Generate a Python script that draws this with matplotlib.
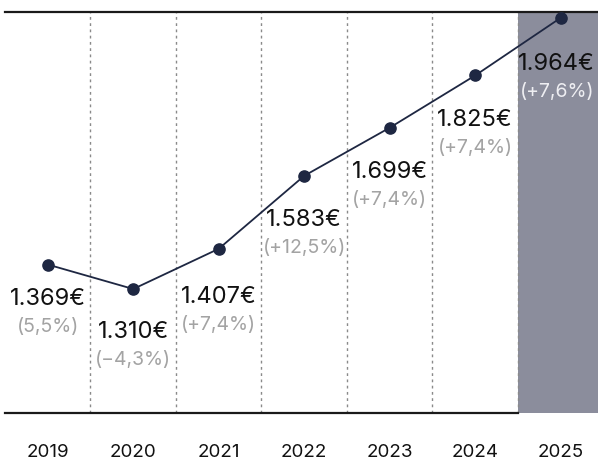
import matplotlib
matplotlib.use("Agg")
import matplotlib.pyplot as plt

# Average gross price per year
years = ["2019", "2020", "2021", "2022", "2023", "2024", "2025"]
prices = [1369, 1310, 1407, 1583, 1699, 1825, 1964]
price_labels = ["1.369€", "1.310€", "1.407€", "1.583€", "1.699€", "1.825€", "1.964€"]
change_labels = ["(5,5%)", "(−4,3%)", "(+7,4%)", "(+12,5%)", "(+7,4%)", "(+7,4%)", "(+7,6%)"]

# label placement (pixels) relative to each point
label_drop = [34, 43, 48, 44, 44, 45, 46]
label_shift = [0, 0, 0, 0, 0, 0, -4]

NAVY = "#1e2742"
SHADE = "#8b8d9c"
GREY_TXT = "#a3a3a3"
FONT = ["Inter", "DejaVu Sans"]

fig = plt.figure(figsize=(5.98, 4.63), dpi=100)
ax = fig.add_axes([5 / 598, 50 / 463, 593 / 598, 401 / 463])

x = list(range(len(years)))
xmax = 6.436
ax.set_xlim(-0.5, xmax)
ax.set_ylim(1011, 1978)

# highlighted current year
ax.axvspan(5.5, xmax, color=SHADE, lw=0, zorder=0)

# dotted separators between years
for b in [i + 0.5 for i in range(len(years) - 1)]:
    ax.axvline(b, color="#8a8a8a", lw=1.0, ls=(0, (2, 2.5)), zorder=1)

# top and bottom rules
ax.axhline(1978, xmin=0, xmax=1, color="#1a1a1a", lw=1.6, zorder=2, clip_on=False)
ax.plot([-0.5, 5.5], [1011, 1011], color="#1a1a1a", lw=1.6, zorder=2, clip_on=False)

ax.plot(x, prices, color=NAVY, lw=1.3, zorder=3)
ax.scatter(x, prices, s=65, color=NAVY, zorder=4)

for i, (v, pl, cl) in enumerate(zip(prices, price_labels, change_labels)):
    last = i == len(years) - 1
    ax.annotate(pl, (i, v), xytext=(label_shift[i], -label_drop[i]),
                textcoords="offset pixels", ha="center", va="center",
                fontsize=17, color="#111111", family=FONT, zorder=5)
    ax.annotate(cl, (i, v), xytext=(label_shift[i], -label_drop[i] - 28),
                textcoords="offset pixels", ha="center", va="center", fontsize=14,
                color="#eeeef2" if last else GREY_TXT, family=FONT, zorder=5)

ax.set_xticks(x)
ax.set_xticklabels(years, family=FONT, fontsize=13.5, color="#111111")
ax.tick_params(axis="x", length=0, pad=22)
ax.set_yticks([])
for s in ax.spines.values():
    s.set_visible(False)

fig.savefig("out.png", dpi=100)
